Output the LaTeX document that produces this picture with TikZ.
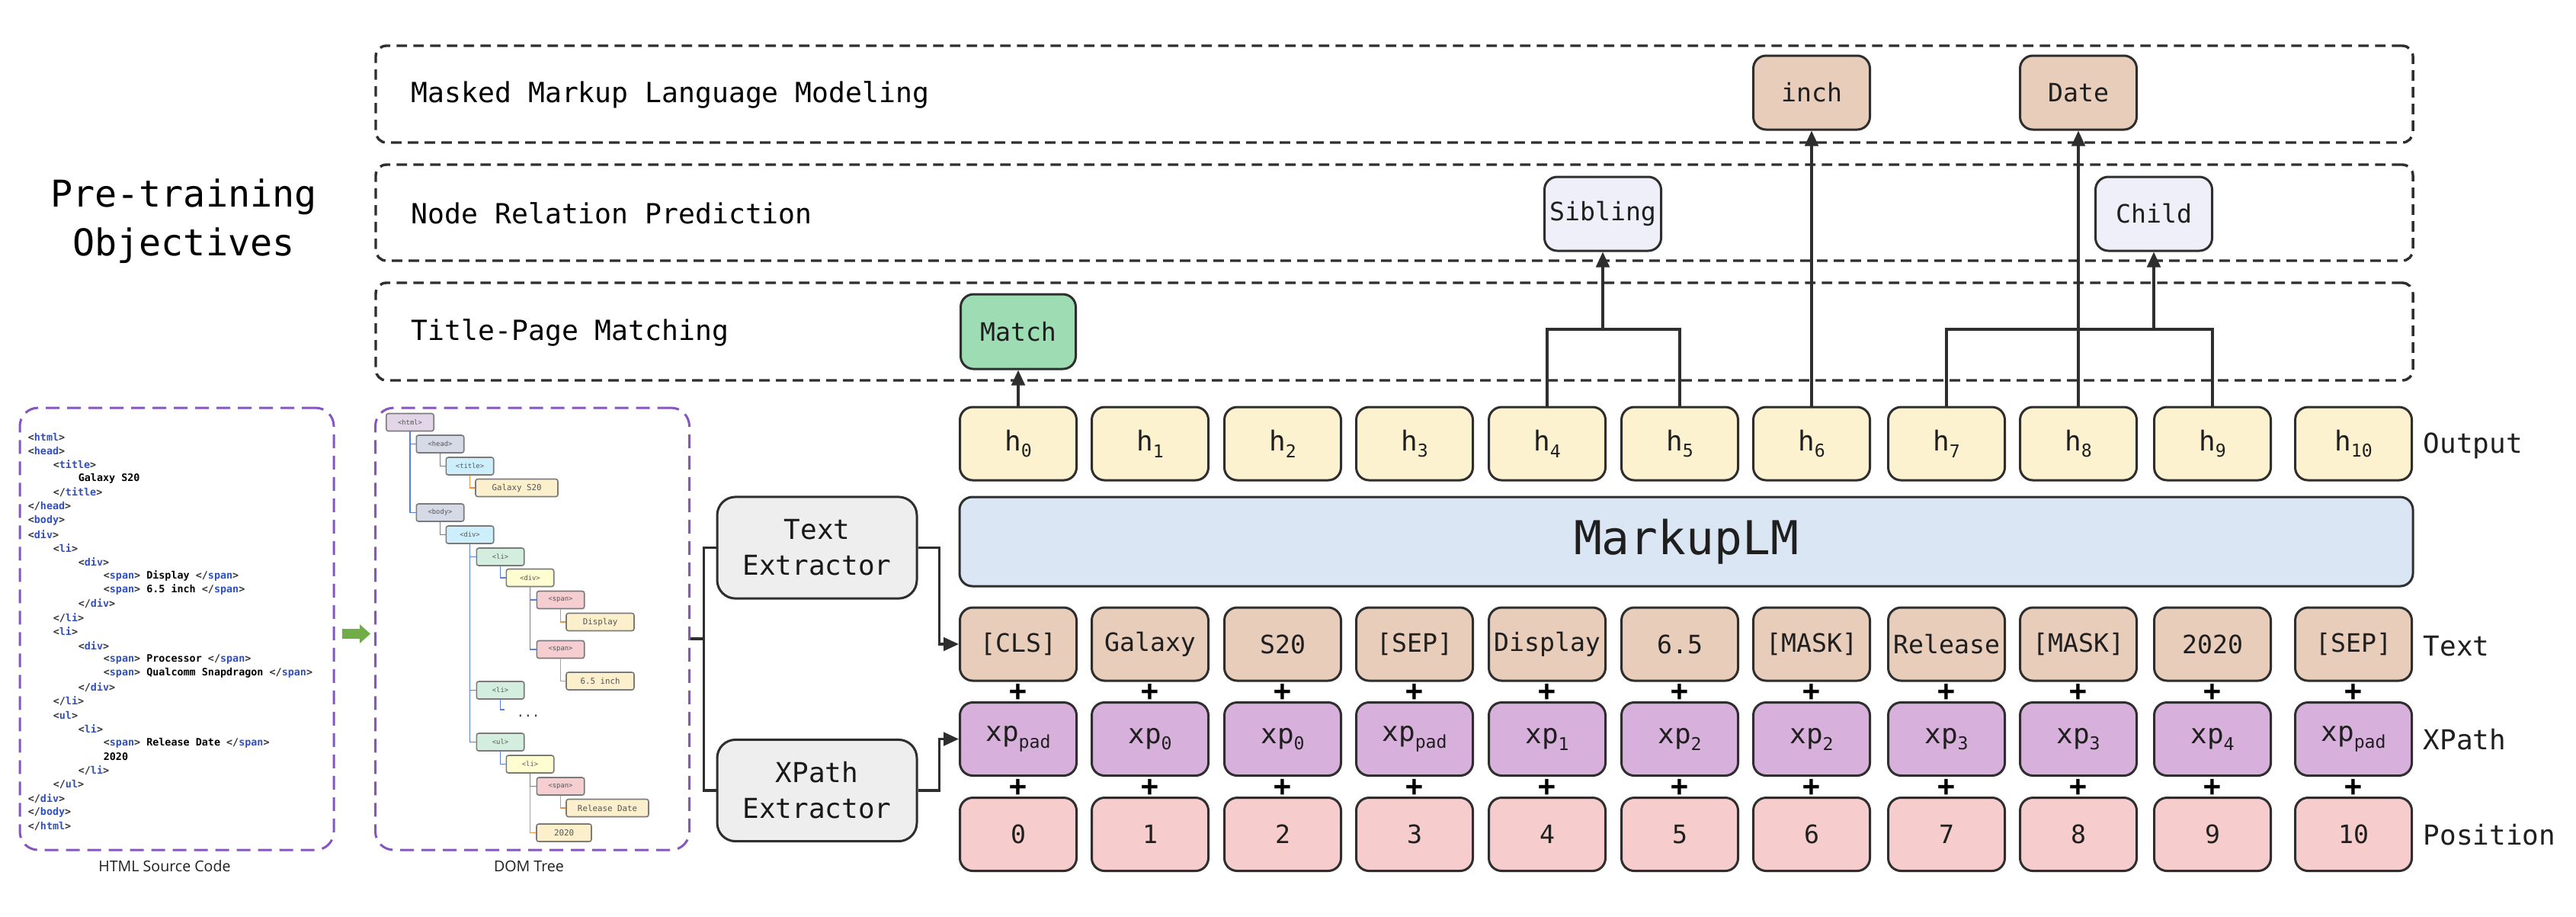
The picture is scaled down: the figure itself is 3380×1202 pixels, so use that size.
\documentclass[tikz,border=0pt]{standalone}
\usepackage{fontspec}
\setmainfont{DejaVu Sans Mono}
\newfontfamily\osans{Open Sans}
\usetikzlibrary{arrows.meta}
\definecolor{stk}{HTML}{2E2E2E}
\definecolor{hcol}{HTML}{FDF2D0}
\definecolor{tcol}{HTML}{E8CDBB}
\definecolor{xcol}{HTML}{D8B0DC}
\definecolor{pcol}{HTML}{F7CCCC}
\definecolor{mcol}{HTML}{DAE6F3}
\definecolor{ecol}{HTML}{EEEEEE}
\definecolor{gcol}{HTML}{9EDCB4}
\definecolor{scol}{HTML}{EFEFF9}
\definecolor{purp}{HTML}{8656C0}
\definecolor{codeblue}{HTML}{2F4FC0}
\definecolor{codegray}{HTML}{333333}
\definecolor{dhtmlc}{HTML}{E1D5E7}
\definecolor{dheadc}{HTML}{D6DAE6}
\definecolor{dcyan}{HTML}{CDEFFB}
\definecolor{dcream}{HTML}{FCF0CC}
\definecolor{dmint}{HTML}{D3EEDF}
\definecolor{dyel}{HTML}{FEFDD2}
\definecolor{dpink}{HTML}{F6CDD0}
\definecolor{dbluec}{HTML}{5B7FD6}
\definecolor{dorngc}{HTML}{F0913F}
\definecolor{dgray}{HTML}{7A7A7A}
\definecolor{dtext}{HTML}{555555}
\definecolor{garrow}{HTML}{70AD47}
\newcommand\fs[2]{\fontsize{#1}{#2}\selectfont}
\newcommand\sbs[1]{\raisebox{-2.2pt}{\fs{5.8}{6}#1}}
\newcommand\tg[1]{{\color{codegray}<}{\color{codeblue}#1}{\color{codegray}>}}
\newcommand\etg[1]{{\color{codegray}</}{\color{codeblue}#1}{\color{codegray}>}}
\tikzset{
  tok/.style={draw=stk, line width=0.75pt, rounded corners=4.2pt, minimum width=38.25pt, minimum height=24pt, inner sep=0pt, text=black!88, font=\fs{8.3}{9}},
  hx/.style={tok, font=\fs{9}{10}},
  plus/.style={inner sep=0pt, font=\bfseries\fs{9.5}{10}},
  conn/.style={draw=stk, line width=0.8pt},
  arr/.style={conn, -{Triangle[length=5pt,width=4.4pt]}},
  objbox/.style={draw=stk, line width=0.85pt, dash pattern=on 3.4pt off 2.1pt, rounded corners=3.5pt, minimum width=668.25pt, inner sep=0pt},
  objlbl/.style={anchor=west, inner sep=0pt, font=\fs{9.1}{10}},
  sidelbl/.style={anchor=west, inner sep=0pt, font=\fs{9}{10}, text=black!88},
  purpbox/.style={draw=purp, line width=0.75pt, dash pattern=on 4.5pt off 2.5pt, rounded corners=6pt, minimum width=103pt, minimum height=145pt, inner sep=0pt},
  code/.style={anchor=west, inner sep=0pt, font=\bfseries\fs{3.35}{4}},
  dtag/.style={draw=dgray, line width=0.4pt, rounded corners=0.7pt, minimum width=15.6pt, minimum height=5.75pt, inner sep=0pt, font=\fs{2.2}{2.5}, text=dtext},
  dtxt/.style={dtag, fill=dcream, font=\fs{2.7}{3}},
  dblue/.style={draw=dbluec, line width=0.45pt},
  dorng/.style={draw=dorngc, line width=0.45pt},
  extr/.style={draw=stk, line width=0.75pt, rounded corners=6pt, fill=ecol, minimum width=65.5pt, minimum height=33.3pt, inner sep=0pt, align=center, font=\fs{9}{11.75}, text=black!90},
}
\begin{document}
\begin{tikzpicture}[x=0.25pt, y=-0.25pt]
\useasboundingbox (0,0) rectangle (3380,1202);

% ---------- objectives ----------
\node[align=center, inner sep=0pt, font=\fs{12.1}{16}] (pretitle) at (241,290) {Pre-training\\Objectives};
\node[objbox, minimum height=31.75pt] (obj1) at (1829.5,123.5) {};
\node[objbox, minimum height=31.5pt] (obj2) at (1829.5,279) {};
\node[objbox, minimum height=32pt] (obj3) at (1829.5,435) {};
\node[objlbl] (lbl1) at (539,124) {Masked Markup Language Modeling};
\node[objlbl] (lbl2) at (539,280) {Node Relation Prediction};
\node[objlbl] (lbl3) at (539,436) {Title-Page Matching};

\node[tok, fill=gcol, minimum width=37.75pt, minimum height=24.5pt] (match) at (1336,435) {Match};
\node[tok, fill=scol, minimum height=24.25pt] (sib) at (2103,280.5) {Sibling};
\node[tok, fill=scol, minimum height=24.25pt] (child) at (2826,280.5) {Child};
\node[tok, fill=tcol, minimum height=24.25pt] (inch) at (2377,121.5) {inch};
\node[tok, fill=tcol, minimum height=24.25pt] (date) at (2727,121.5) {Date};

% ---------- columns ----------
\foreach \i/\cx/\tk/\xs in {0/1336/{[CLS]}/pad,1/1509/Galaxy/0,2/1683/S20/0,3/1856/{[SEP]}/pad,4/2030/Display/1,5/2204/6.5/2,6/2377/{[MASK]}/2,7/2554/Release/3,8/2727/{[MASK]}/3,9/2903/2020/4,10/3088/{[SEP]}/pad}{
  \node[hx, fill=hcol] (h\i) at (\cx,582) {h\sbs{\i}};
  \node[tok, fill=tcol] (t\i) at (\cx,845) {\tk};
  \node[hx, fill=xcol] (x\i) at (\cx,969.5) {xp\sbs{\xs}};
  \node[tok, fill=pcol] (p\i) at (\cx,1094.5) {\i};
  \node[plus] (pa\i) at (\cx,908) {+};
  \node[plus] (pb\i) at (\cx,1033) {+};
}
\node[tok, fill=mcol, minimum width=476.75pt, minimum height=29.25pt, font=\fs{15.3}{16}] (mlm) at (2212.5,710.5) {MarkupLM};

\node[sidelbl] (lout) at (3179,585) {Output};
\node[sidelbl] (ltext) at (3179,848) {Text};
\node[sidelbl] (lxp) at (3179,970) {XPath};
\node[sidelbl] (lpos) at (3179,1095) {Position};

% ---------- extractors ----------
\node[extr] (textex) at (1072,718.5) {Text\\Extractor};
\node[extr] (xpex) at (1072,1037) {XPath\\Extractor};

% ---------- connectors (objectives) ----------
\draw[arr] (h0.north) -- (match.south);
\coordinate (br1) at (2103,432);
\coordinate (br2) at (2826,432);
\draw[conn] (h4.north) |- (br1) -| (h5.north);
\draw[arr] (br1) -- (sib.south);
\draw[arr] (h6.north) -- (inch.south);
\draw[conn] (h7.north) |- (br2) -| (h9.north);
\draw[arr] (h8.north) -- (date.south);
\draw[arr] (br2) -- (child.south);

% ---------- HTML source ----------
\node[purpbox] (htmlbox) at (232,825) {};
\node[purpbox] (dombox) at (698.5,825) {};
\node[inner sep=0pt, font=\osans\fs{4.9}{6}, text=black!88] (lblhtml) at (216,1136) {HTML Source Code};
\node[inner sep=0pt, font=\osans\fs{4.9}{6}, text=black!88] (lbldom) at (694,1136) {DOM Tree};

\foreach \lv/\txt [count=\kk from 0] in {
0/\tg{html},
0/\tg{head},
1/\tg{title},
2/Galaxy S20,
1/\etg{title},
0/\etg{head},
0/\tg{body},
0/\tg{div},
1/\tg{li},
2/\tg{div},
3/\tg{span} Display \etg{span},
3/\tg{span} 6.5 inch \etg{span},
2/\etg{div},
1/\etg{li},
1/\tg{li},
2/\tg{div},
3/\tg{span} Processor \etg{span},
3/\tg{span} Qualcomm Snapdragon \etg{span},
2/\etg{div},
1/\etg{li},
1/\tg{ul},
2/\tg{li},
3/\tg{span} Release Date \etg{span},
3/2020,
2/\etg{li},
1/\etg{ul},
0/\etg{div},
0/\etg{body},
0/\etg{html}}
{\node[code] (code\kk) at ({36+33*\lv},{573+18.25*\kk}) {\txt};}

% ---------- DOM tree ----------
\node[dtag, fill=dhtmlc] (d-html) at (538,554) {<html>};
\node[dtag, fill=dheadc] (d-head) at (577.5,582.5) {<head>};
\node[dtag, fill=dcyan] (d-title) at (616.5,611.5) {<title>};
\node[dtxt, minimum width=27pt] (d-galaxy) at (678,640) {Galaxy S20};
\node[dtag, fill=dheadc] (d-body) at (577.5,672.5) {<body>};
\node[dtag, fill=dcyan] (d-div1) at (616.5,701.5) {<div>};
\node[dtag, fill=dmint] (d-li1) at (656.5,730.5) {<li>};
\node[dtag, fill=dyel] (d-div2) at (695.5,758) {<div>};
\node[dtag, fill=dpink] (d-span1) at (735.5,787) {<span>};
\node[dtxt, minimum width=22.25pt] (d-display) at (787.5,816) {Display};
\node[dtag, fill=dpink] (d-span2) at (735.5,852) {<span>};
\node[dtxt, minimum width=22.25pt] (d-inch) at (787.5,893.5) {6.5 inch};
\node[dtag, fill=dmint] (d-li2) at (656.5,905.5) {<li>};
\node[inner sep=0pt, font=\fs{4.2}{5}, text=black!80] (d-dots) at (693,939) {...};
\node[dtag, fill=dmint] (d-ul) at (656.5,973.5) {<ul>};
\node[dtag, fill=dyel] (d-li3) at (695.5,1002.5) {<li>};
\node[dtag, fill=dpink] (d-span3) at (735.5,1031.5) {<span>};
\node[dtxt, minimum width=27pt] (d-release) at (797,1060) {Release Date};
\node[dtxt, minimum width=18pt] (d-2020) at (740,1092.5) {2020};

\draw[dblue] (d-html.south) |- (d-head.west);
\draw[dblue] (d-html.south) |- (d-body.west);
\draw[dblue] (d-head.south) |- (d-title.west);
\draw[dorng] (d-title.south) |- (d-galaxy.west);
\draw[dblue] (d-body.south) |- (d-div1.west);
\draw[dblue] (d-div1.south) |- (d-li1.west);
\draw[dblue] (d-div1.south) |- (d-li2.west);
\draw[dblue] (d-div1.south) |- (d-ul.west);
\draw[dblue] (d-li1.south) |- (d-div2.west);
\draw[dblue] (d-div2.south) |- (d-span1.west);
\draw[dblue] (d-div2.south) |- (d-span2.west);
\draw[dorng] (d-span1.south) |- (d-display.west);
\draw[dorng] (d-span2.south) |- (d-inch.west);
\coordinate (d-stub) at (662,931);
\draw[dblue] (d-li2.south) |- (d-stub);
\draw[dblue] (d-ul.south) |- (d-li3.west);
\draw[dorng] (d-li3.south) |- (d-2020.west);
\draw[dblue] (d-li3.south) |- (d-span3.west);
\draw[dorng] (d-span3.south) |- (d-release.west);

% ---------- green arrow ----------
\coordinate (gy) at (0,831.5);
\draw[draw=garrow, line width=3.25pt, -{Triangle[length=3.5pt,width=6pt]}, shorten <=2.25pt, shorten >=1.25pt] (htmlbox.east |- gy) -- (dombox.west |- gy);

% ---------- extractor connectors ----------
\coordinate (bus) at (925,838);
\draw[conn] (dombox.east |- bus) -- (bus);
\draw[conn] (textex.west) -- ++(-16,0) |- (xpex.west);
\draw[arr] (textex.east) -- ++(28,0) |- (t0.west);
\draw[arr] (xpex.east) -- ++(28,0) |- (x0.west);
\end{tikzpicture}
\end{document}
